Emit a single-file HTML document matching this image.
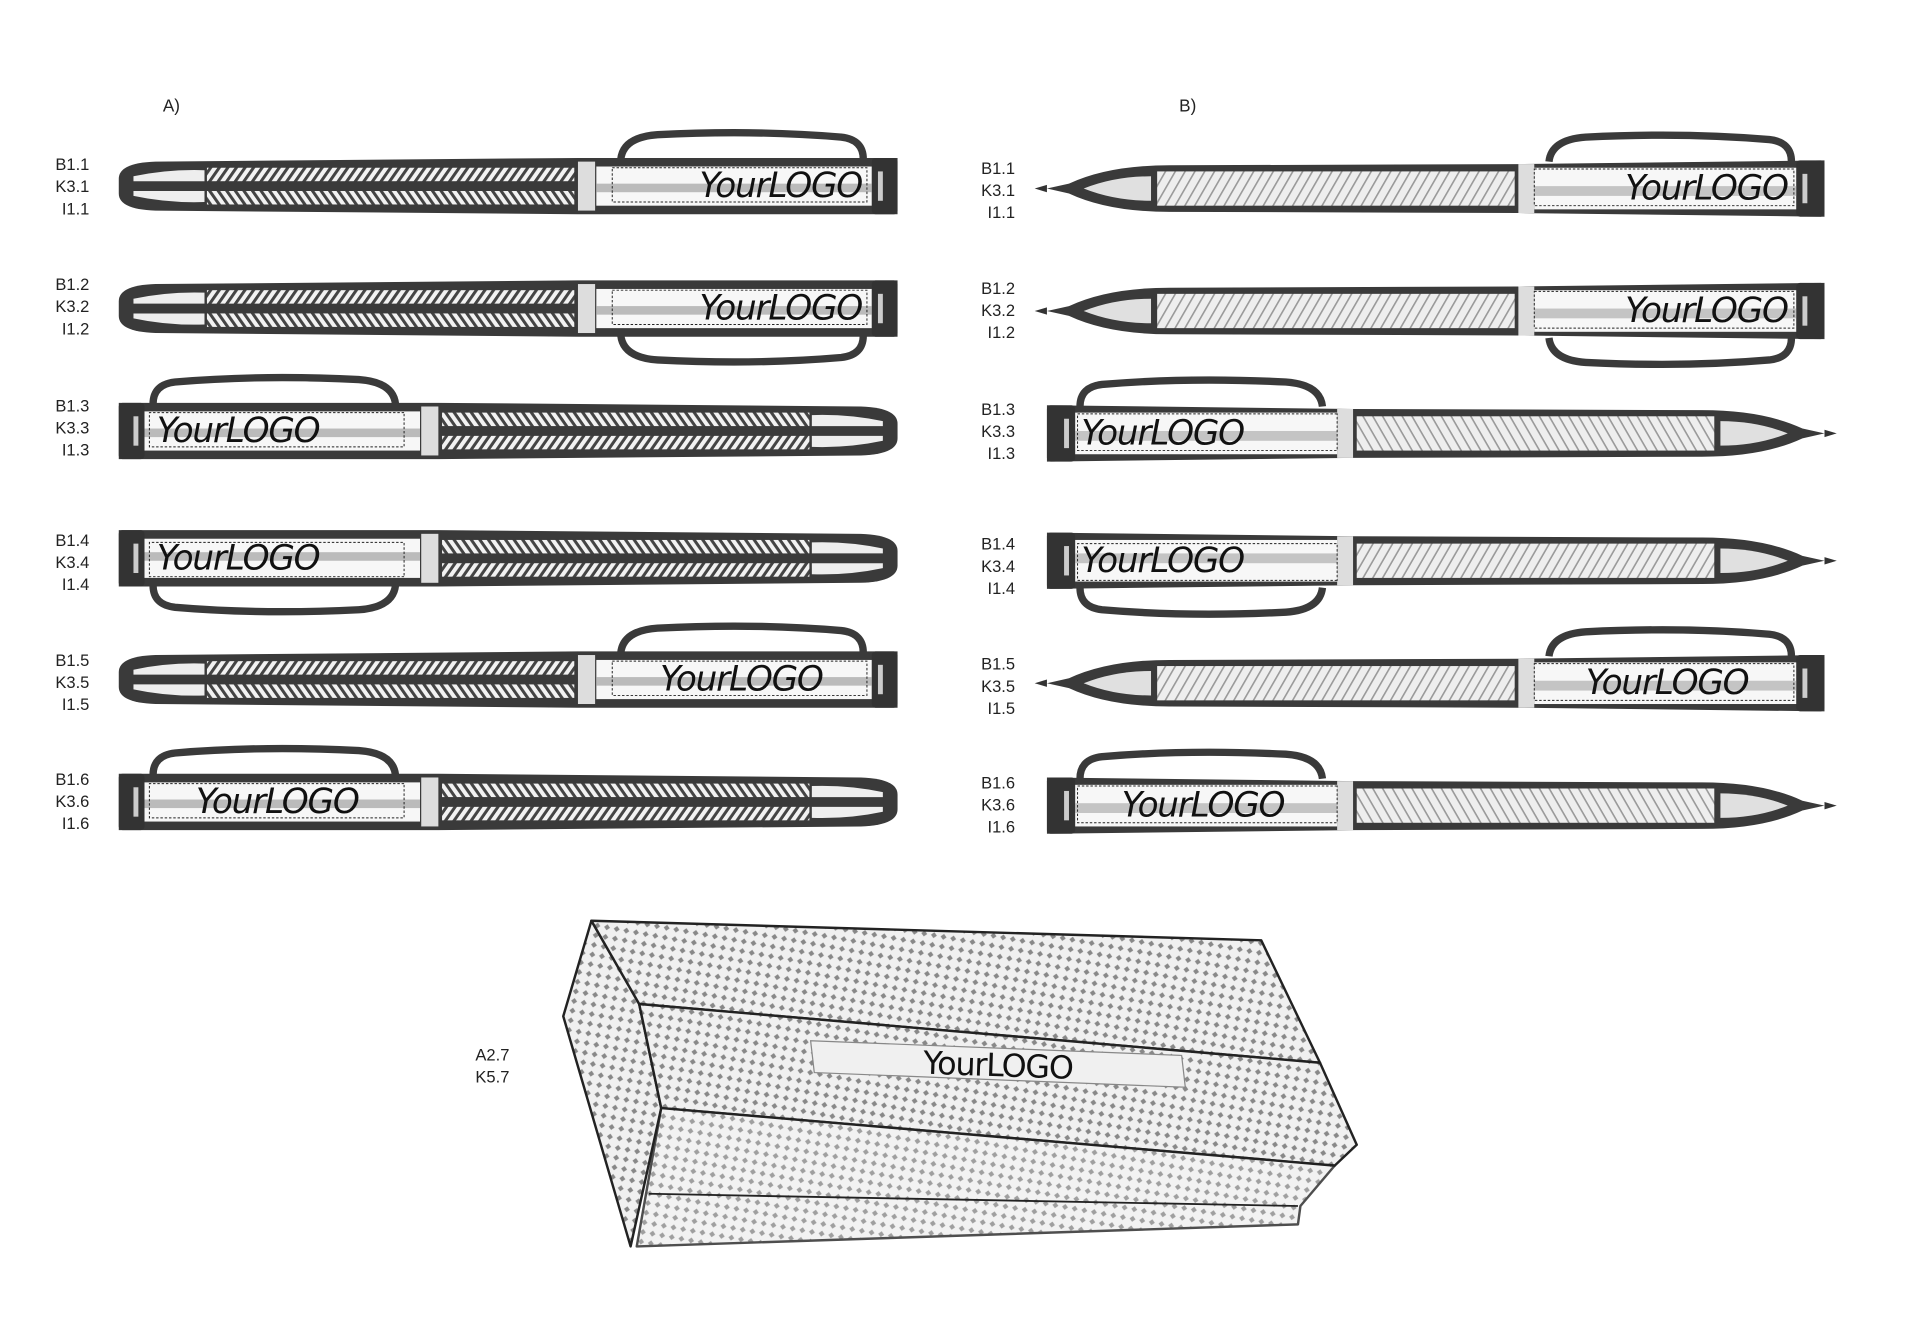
<!DOCTYPE html>
<html><head><meta charset="utf-8"><style>
html,body{margin:0;padding:0;background:#fff;}
svg{display:block;}
text{font-family:"Liberation Sans",sans-serif;}
.lab{font-size:13.5px;fill:#222;text-anchor:end;}
.logo{font-family:"DejaVu Sans","Liberation Sans",sans-serif;font-style:italic;font-size:28px;fill:#111;letter-spacing:-1px;}
</style></head><body>
<svg width="1920" height="1326" viewBox="0 0 1568 1083" preserveAspectRatio="none" xmlns="http://www.w3.org/2000/svg">
<defs>
<pattern id="hatch" width="7" height="20" patternUnits="userSpaceOnUse" patternTransform="skewX(-35)">
<rect width="7" height="20" fill="#f2f2f2"/><rect x="0" width="3" height="20" fill="#444"/></pattern>
<pattern id="hatch2" width="7" height="20" patternUnits="userSpaceOnUse" patternTransform="skewX(35)">
<rect width="7" height="20" fill="#f2f2f2"/><rect x="0" width="3" height="20" fill="#444"/></pattern>
<pattern id="wave" width="8" height="30" patternUnits="userSpaceOnUse" patternTransform="skewX(-30)">
<rect width="8" height="30" fill="#eee"/><rect x="0" width="1.5" height="30" fill="#999"/></pattern>
<pattern id="dots" width="8" height="8" patternUnits="userSpaceOnUse" patternTransform="rotate(10)">
<rect width="8" height="8" fill="#f0f0f0"/><rect x="2" y="2" width="3.5" height="3.5" fill="#888" transform="rotate(45 3.75 3.75)"/></pattern>
<g id="penA">
<path d="M0,-6 Q0,-19 30,-20 L375,-23 L636,-23 L636,23 L375,23 L30,20 Q0,19 0,6 Z" fill="#3a3a3a"/>
<path d="M12,-8 Q40,-14 70,-13 L70,-4 L12,-4 Z" fill="#eee"/>
<path d="M12,8 Q40,14 70,13 L70,4 L12,4 Z" fill="#eee"/>
<rect x="72" y="-15" width="300" height="11" fill="url(#hatch)"/>
<rect x="72" y="4" width="300" height="11" fill="url(#hatch2)"/>
<rect x="375" y="-20" width="14" height="40" fill="#ddd"/>
<rect x="390" y="-16" width="225" height="32" fill="#f7f7f7"/>
<rect x="390" y="-2" width="225" height="7" fill="#bbb"/>
<rect x="403" y="-15" width="208" height="28" fill="none" stroke="#222" stroke-width="0.8" stroke-dasharray="2,1.5"/>
<rect x="615" y="-23" width="21" height="46" rx="3" fill="#333"/>
<rect x="620" y="-12" width="4" height="24" fill="#ccc"/>
</g>
<path id="clipA" d="M410,-22 Q412,-40 440,-42 Q520,-46 590,-40 Q608,-38 608,-22" fill="none" stroke="#3a3a3a" stroke-width="6"/>
<g id="penB">
<path d="M0,0 L18,-4 Q50,-19 100,-19 L385,-20 L635,-23 L635,23 L385,20 L100,19 Q50,19 18,4 Z" fill="#3a3a3a"/>
<path d="M-10,0 L0,-3 L0,3 Z" fill="#333"/>
<path d="M30,0 Q55,-10 85,-10 L85,10 Q55,10 30,0 Z" fill="#e0e0e0"/>
<rect x="90" y="-14" width="292" height="28" fill="url(#wave)"/>
<rect x="385" y="-20" width="13" height="40" fill="#ddd"/>
<rect x="398" y="-17" width="214" height="34" fill="#f7f7f7"/>
<rect x="398" y="-2" width="214" height="8" fill="#c4c4c4"/>
<rect x="398" y="-16" width="212" height="30" fill="none" stroke="#222" stroke-width="0.8" stroke-dasharray="2,1.5"/>
<rect x="612" y="-23" width="23" height="46" rx="3" fill="#333"/>
<rect x="617" y="-12" width="4" height="24" fill="#ccc"/>
</g>
</defs>

<text x="133" y="91" style="font-size:14px;fill:#222">A)</text>
<text x="963" y="91" style="font-size:14px;fill:#222">B)</text>

<g transform="translate(97,152)"><use href="#penA"/><use href="#clipA"/><text class="logo" x="607" y="9" text-anchor="end">YourLOGO</text></g>
<g transform="translate(97,252)"><use href="#penA"/><use href="#clipA" transform="scale(1,-1)"/><text class="logo" x="607" y="9" text-anchor="end">YourLOGO</text></g>
<g transform="translate(733,352) scale(-1,1)"><use href="#penA"/><use href="#clipA"/></g>
<text class="logo" x="128" y="361">YourLOGO</text>
<g transform="translate(733,456) scale(-1,-1)"><use href="#penA"/><use href="#clipA"/></g>
<text class="logo" x="128" y="465">YourLOGO</text>
<g transform="translate(97,555)"><use href="#penA"/><use href="#clipA"/><text class="logo" x="442" y="9">YourLOGO</text></g>
<g transform="translate(733,655) scale(-1,1)"><use href="#penA"/><use href="#clipA"/></g>
<text class="logo" x="160" y="664">YourLOGO</text>

<g transform="translate(855,154)"><use href="#penB"/><use href="#clipA"/><text class="logo" x="605" y="9" text-anchor="end">YourLOGO</text></g>
<g transform="translate(855,254)"><use href="#penB"/><use href="#clipA" transform="scale(1,-1)"/><text class="logo" x="605" y="9" text-anchor="end">YourLOGO</text></g>
<g transform="translate(1490,354) scale(-1,1)"><use href="#penB"/><use href="#clipA"/></g>
<text class="logo" x="883" y="363">YourLOGO</text>
<g transform="translate(1490,458) scale(-1,-1)"><use href="#penB"/><use href="#clipA"/></g>
<text class="logo" x="883" y="467">YourLOGO</text>
<g transform="translate(855,558)"><use href="#penB"/><use href="#clipA"/><text class="logo" x="440" y="9">YourLOGO</text></g>
<g transform="translate(1490,658) scale(-1,1)"><use href="#penB"/><use href="#clipA"/></g>
<text class="logo" x="916" y="667">YourLOGO</text>

<g class="lab">
<text x="73" y="139">B1.1</text><text x="73" y="157">K3.1</text><text x="73" y="175">I1.1</text>
<text x="73" y="237">B1.2</text><text x="73" y="255">K3.2</text><text x="73" y="273">I1.2</text>
<text x="73" y="336">B1.3</text><text x="73" y="354">K3.3</text><text x="73" y="372">I1.3</text>
<text x="73" y="446">B1.4</text><text x="73" y="464">K3.4</text><text x="73" y="482">I1.4</text>
<text x="73" y="544">B1.5</text><text x="73" y="562">K3.5</text><text x="73" y="580">I1.5</text>
<text x="73" y="641">B1.6</text><text x="73" y="659">K3.6</text><text x="73" y="677">I1.6</text>
<text x="829" y="142">B1.1</text><text x="829" y="160">K3.1</text><text x="829" y="178">I1.1</text>
<text x="829" y="240">B1.2</text><text x="829" y="258">K3.2</text><text x="829" y="276">I1.2</text>
<text x="829" y="339">B1.3</text><text x="829" y="357">K3.3</text><text x="829" y="375">I1.3</text>
<text x="829" y="449">B1.4</text><text x="829" y="467">K3.4</text><text x="829" y="485">I1.4</text>
<text x="829" y="547">B1.5</text><text x="829" y="565">K3.5</text><text x="829" y="583">I1.5</text>
<text x="829" y="644">B1.6</text><text x="829" y="662">K3.6</text><text x="829" y="680">I1.6</text>
<text x="416" y="866">A2.7</text><text x="416" y="884">K5.7</text>
</g>

<g stroke="#222" stroke-width="2" stroke-linejoin="round">
<path d="M483,752 L522,820 L540,905 L515,1018 L460,830 Z" fill="url(#dots)"/>
<path d="M483,752 L1030,768 L1078,868 L522,820 Z" fill="url(#dots)"/>
<path d="M522,820 L1078,868 L1108,935 L1090,952 L540,905 Z" fill="url(#dots)"/>
<path d="M540,905 L1090,952 L1062,985 L1060,1000 L520,1018 Z" fill="url(#dots)" opacity="0.8"/>
<path d="M530,975 L1060,985" fill="none" stroke-width="1.5"/>
</g>
<path d="M662,850 L965,862 L968,888 L665,876 Z" fill="#f0f0f0" stroke="#888" stroke-width="1"/>
<text class="logo" x="815" y="879" text-anchor="middle" style="font-style:normal;font-size:26px" transform="rotate(2 815 870)">YourLOGO</text>
</svg>
</body></html>
